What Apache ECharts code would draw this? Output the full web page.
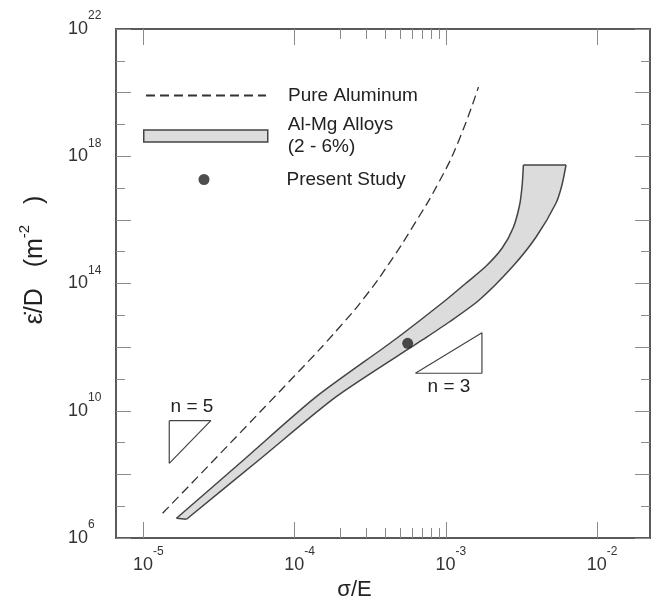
<!DOCTYPE html>
<html>
<head>
<meta charset="utf-8">
<script src="https://cdn.jsdelivr.net/npm/echarts@6/dist/echarts.min.js"></script>
<style>
  html, body { margin: 0; padding: 0; background: #fff; }
  #chartmain { width: 652px; height: 612px; }
</style>
</head>
<body>
<div id="chartmain"></div>
<script>
// all values are log10 of sigma/E (S) and of strain-rate/D (R)
var pureAlLogS = [-4.872, -3.966, -3.703, -3.526, -3.373, -3.221, -3.043, -2.911, -2.784];
var pureAlLogR = [6.777, 11.266, 12.624, 13.630, 14.642, 15.764, 17.207, 18.528, 20.178];

// Al-Mg band, upper (left) edge and lower (right) edge
var bandUpperLogS = [-4.780, -4.318, -3.856, -3.340, -2.999, -2.865, -2.733, -2.627, -2.555, -2.512, -2.495, -2.487];
var bandUpperLogR = [6.619, 8.531, 10.442, 12.224, 13.482, 14.016, 14.551, 15.117, 15.745, 16.468, 17.097, 17.726];
var bandLowerLogS = [-4.714, -4.219, -3.724, -3.155, -2.977, -2.779, -2.561, -2.403, -2.271, -2.232, -2.205];
var bandLowerLogR = [6.588, 8.515, 10.442, 12.224, 12.790, 13.482, 14.519, 15.462, 16.531, 17.097, 17.726];

// present study
var studyLogS = [-3.252];
var studyLogR = [12.121];

// slope triangles
var triN5LogS = [-4.828, -4.553, -4.828, -4.828];
var triN5LogR = [9.688, 9.688, 8.348, 9.688];
var triN3LogS = [-3.201, -2.761, -2.761, -3.201];
var triN3LogR = [11.178, 11.178, 12.454, 11.178];

// axes
var xMin = -5.18, xMax = -1.65;
var yMin = 6, yMax = 22;
var xMajor = [-5, -4, -3, -2];
var xMinorRaw = [2e-4, 3e-4, 4e-4, 5e-4, 6e-4, 7e-4, 8e-4, 9e-4];
var yLabels = [6, 10, 14, 18, 22];
var yLong = [6, 8, 10, 12, 14, 16, 18, 20, 22];
var yShort = [7, 9, 11, 13, 15, 17, 19, 21];

var font = 'Liberation Sans, Arial, Helvetica, sans-serif';
var tickColor = '#8a8a8a';

function zip(a, b) {
    return a.map(function (v, i) { return [v, b[i]]; });
}

var xMinor = xMinorRaw.map(function (v) { return Math.log10(v); });

function powLabel(v) {
    return '{b|10}{s|' + v + '}';
}
var powRich = {
    b: { fontSize: 18, color: '#333', fontFamily: font },
    s: { fontSize: 12, color: '#333', fontFamily: font, padding: [0, 0, 26, 0] }
};

function xAxisOf(pos, ticks, len, withLabel) {
    var ax = {
        type: 'value', position: pos, min: xMin, max: xMax,
        axisLine: { show: false },
        splitLine: { show: false },
        axisTick: { show: true, inside: true, length: len, customValues: ticks,
            lineStyle: { color: tickColor, width: 1 } },
        axisLabel: { show: false }
    };
    if (withLabel) {
        ax.axisLabel = { show: true, customValues: ticks, margin: 8, padding: [0, 0, 0, 10],
            formatter: powLabel, rich: powRich };
        ax.name = 'σ/E';
        ax.nameLocation = 'middle';
        ax.nameGap = 22;
        ax.nameTextStyle = { fontSize: 22, color: '#222', fontFamily: font, padding: [0, 57, 0, 0] };
    }
    return ax;
}

function yAxisOf(pos, ticks, len, withLabel) {
    var ax = {
        type: 'value', position: pos, min: yMin, max: yMax,
        axisLine: { show: false },
        splitLine: { show: false },
        axisTick: { show: true, inside: true, length: len, customValues: ticks,
            lineStyle: { color: tickColor, width: 1 } },
        axisLabel: { show: false }
    };
    if (withLabel) {
        ax.axisLabel = { show: true, customValues: yLabels, margin: 48, align: 'left',
            formatter: powLabel, rich: powRich };
        ax.name = '{a|ε̇/D   (m}{s|-2}{a|   )}';
        ax.nameLocation = 'middle';
        ax.nameGap = 62;
        ax.nameTextStyle = { color: '#222', fontFamily: font, padding: [0, 0, 0, 47],
            rich: {
                a: { fontSize: 25, color: '#222', fontFamily: font },
                s: { fontSize: 15, color: '#222', fontFamily: font, padding: [0, 0, 22, 0] }
            } };
    }
    return ax;
}

var bandUpper = zip(bandUpperLogS, bandUpperLogR);
var bandLower = zip(bandLowerLogS, bandLowerLogR);

var option = {
    animation: false,
    backgroundColor: '#fff',
    grid: { left: 116, top: 29, right: 2, bottom: 74, show: true,
        borderColor: '#5a5a5a', borderWidth: 2, backgroundColor: 'transparent' },
    xAxis: [
        xAxisOf('bottom', xMajor, 16, true),
        xAxisOf('bottom', xMinor, 10, false),
        xAxisOf('top', xMajor, 16, false),
        xAxisOf('top', xMinor, 10, false)
    ],
    yAxis: [
        yAxisOf('left', yLong, 15, true),
        yAxisOf('left', yShort, 9, false),
        yAxisOf('right', yLong, 15, false),
        yAxisOf('right', yShort, 9, false)
    ],
    legend: [
        { left: 145, top: 86, padding: 0, itemWidth: 120, itemHeight: 14, selectedMode: false,
          data: ['Pure Aluminum'],
          itemStyle: { color: 'rgba(0,0,0,0)', borderWidth: 0 },
          textStyle: { fontSize: 19, color: '#222', fontFamily: font, padding: [0, 0, 0, 17] } },
        { left: 143, top: 114, padding: 0, itemWidth: 124, itemHeight: 12, selectedMode: false,
          data: [{ name: 'Al-Mg Alloys', icon: 'rect' }],
          formatter: function () { return 'Al-Mg Alloys\n(2 - 6%)'; },
          itemStyle: { color: '#dcdcdc', borderColor: '#444', borderWidth: 1.5 },
          textStyle: { fontSize: 19, lineHeight: 22, color: '#222', fontFamily: font, padding: [0, 0, 0, 15] } },
        { left: 198.5, top: 170, padding: 0, itemWidth: 11, itemHeight: 11, selectedMode: false,
          data: [{ name: 'Present Study', icon: 'circle' }],
          textStyle: { fontSize: 19, color: '#222', fontFamily: font, padding: [0, 0, 0, 72] } }
    ],
    graphic: [
        { type: 'text', x: 192, y: 407, style: { text: 'n = 5', fontSize: 19, fontFamily: font,
            fill: '#222', align: 'center', verticalAlign: 'middle' } },
        { type: 'text', x: 449, y: 387, style: { text: 'n = 3', fontSize: 19, fontFamily: font,
            fill: '#222', align: 'center', verticalAlign: 'middle' } }
    ],
    series: [
        {
            name: 'Al-Mg Alloys',
            type: 'custom',
            itemStyle: { color: '#dcdcdc', borderColor: '#444', borderWidth: 1.5 },
            data: bandUpper,
            renderItem: function (params, api) {
                if (params.dataIndex !== 0) return null;
                var up = bandUpper.map(function (p) { return api.coord(p); });
                var lo = bandLower.map(function (p) { return api.coord(p); });
                var edge = { stroke: '#444', lineWidth: 1.5, fill: null };
                return {
                    type: 'group',
                    children: [
                        { type: 'polygon', shape: { points: up.concat(lo.slice().reverse()) },
                          style: { fill: '#dcdcdc' } },
                        { type: 'polyline', shape: { points: up, smooth: 0.25 }, style: edge },
                        { type: 'polyline', shape: { points: lo, smooth: 0.25 }, style: edge },
                        { type: 'line', shape: { x1: up[0][0], y1: up[0][1], x2: lo[0][0], y2: lo[0][1] }, style: edge },
                        { type: 'line', shape: { x1: up[up.length - 1][0], y1: up[up.length - 1][1],
                            x2: lo[lo.length - 1][0], y2: lo[lo.length - 1][1] }, style: edge }
                    ]
                };
            },
            z: 2
        },
        {
            name: 'Pure Aluminum',
            type: 'line',
            data: zip(pureAlLogS, pureAlLogR),
            smooth: 0.5,
            symbol: 'none',
            itemStyle: { color: '#333' },
            lineStyle: { color: '#333', width: 1.3, type: [9, 5] },
            z: 3
        },
        {
            name: 'Present Study',
            type: 'scatter',
            data: zip(studyLogS, studyLogR),
            symbolSize: 11,
            itemStyle: { color: '#222' },
            z: 5
        },
        {
            name: 'n5',
            type: 'line',
            data: zip(triN5LogS, triN5LogR),
            symbol: 'none',
            lineStyle: { color: '#444', width: 1.2 },
            z: 3
        },
        {
            name: 'n3',
            type: 'line',
            data: zip(triN3LogS, triN3LogR),
            symbol: 'none',
            lineStyle: { color: '#444', width: 1.2 },
            z: 3
        }
    ]
};

var myChart = echarts.init(document.getElementById('chartmain'));
myChart.setOption(option);
</script>
</body>
</html>
